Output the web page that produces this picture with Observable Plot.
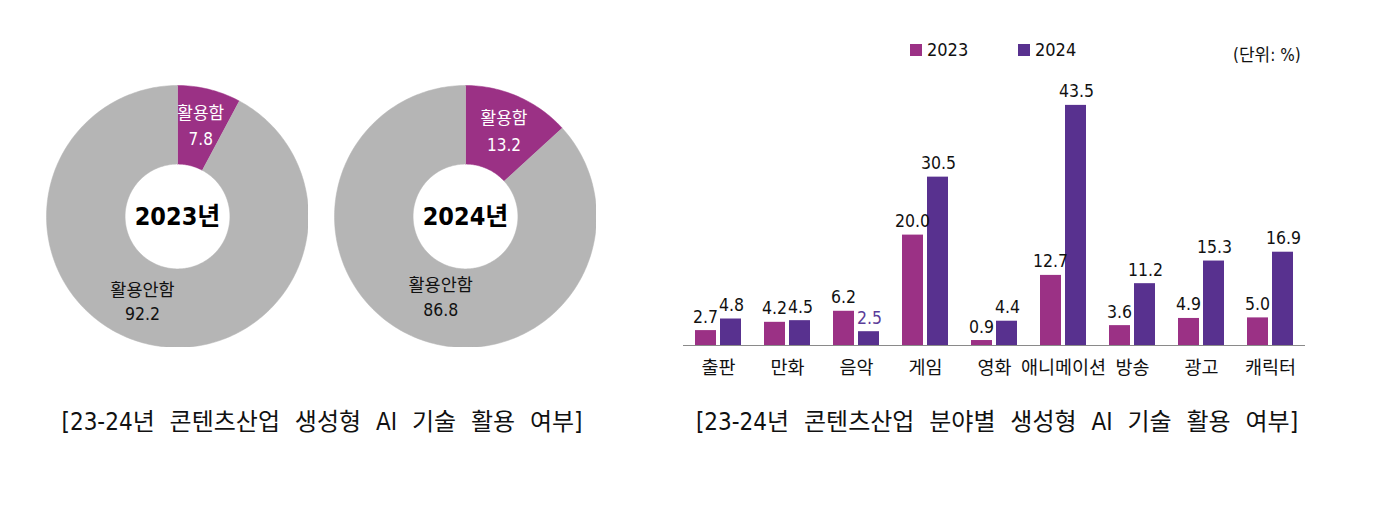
<!DOCTYPE html>
<html><head><meta charset="utf-8">
<script src="https://cdn.jsdelivr.net/npm/d3@7"></script>
<script src="https://cdn.jsdelivr.net/npm/@observablehq/plot@0.6"></script>
<style>
html,body{margin:0;padding:0;background:#fff;}
body{width:1396px;height:524px;position:relative;overflow:hidden;
  font-family:"Liberation Sans Narrow","DejaVu Sans Condensed","Noto Sans CJK KR",sans-serif;color:#111;}
.abs{position:absolute;}
.title{font-size:24px;white-space:nowrap;word-spacing:8px;transform:translateX(-50%);}
.leg{font-size:18px;display:flex;align-items:center;gap:5px;}
.sw{width:12px;height:12px;display:inline-block;}
</style></head><body>
<div id="d1" class="abs" style="left:46px;top:85px"></div>
<div id="d2" class="abs" style="left:334px;top:85px"></div>
<div id="bars" class="abs" style="left:660px;top:60px"></div>
<div class="abs leg" style="left:910px;top:39px"><span class="sw" style="background:#9b3185"></span>2023</div>
<div class="abs leg" style="left:1018px;top:39px"><span class="sw" style="background:#58318f"></span>2024</div>
<div class="abs" style="left:1233px;top:41px;font-size:17px;">(단위: %)</div>
<div class="abs title" style="left:322px;top:402px">[23-24년 콘텐츠산업 생성형 AI 기술 활용 여부]</div>
<div class="abs title" style="left:997px;top:402px">[23-24년 콘텐츠산업 분야별 생성형 AI 기술 활용 여부]</div>
<script>
// ---- data ----
const donutYears = ["2023년", "2024년"];
const sliceLabels = ["활용함", "활용안함"];
const usedShare = [7.8, 13.2];
const notUsedShare = [92.2, 86.8];

const categories = ["출판", "만화", "음악", "게임", "영화", "애니메이션", "방송", "광고", "캐릭터"];
const years = ["2023", "2024"];
const values2023 = [2.7, 4.2, 6.2, 20.0, 0.9, 12.7, 3.6, 4.9, 5.0];
const values2024 = [4.8, 4.5, 2.5, 30.5, 4.4, 43.5, 11.2, 15.3, 16.9];
const highlightedLabel = {category: "음악", year: "2024"};

// ---- styles ----
const PURPLE = "#9b3185", GRAY = "#b5b5b5", C2023 = "#9b3185", C2024 = "#58318f";
const FONT = '"Liberation Sans Narrow","DejaVu Sans Condensed","Noto Sans CJK KR",sans-serif';
const INNER = 0.40;

function ringPoints(a0, a1) {
  const pts = [];
  const n = Math.max(8, Math.ceil((a1 - a0) / 0.02));
  for (let k = 0; k <= n; k++) { const a = a0 + (a1 - a0) * k / n; pts.push({x: Math.sin(a), y: Math.cos(a)}); }
  for (let k = n; k >= 0; k--) { const a = a0 + (a1 - a0) * k / n; pts.push({x: INNER * Math.sin(a), y: INNER * Math.cos(a)}); }
  return pts;
}

function donut(i, bigDx) {
  const slices = [
    {label: sliceLabels[0], value: usedShare[i]},
    {label: sliceLabels[1], value: notUsedShare[i]}
  ];
  const arcs = d3.pie().sort(null).value(d => d.value)(slices);
  const mid = a => (a.startAngle + a.endAngle) / 2;
  const small = arcs[0], big = arcs[1];
  const smallLab = [{x: 0.73 * Math.sin(mid(small)), y: 0.73 * Math.cos(mid(small)), t: small.data.label + "\n" + small.data.value.toFixed(1)}];
  const bigLab = [{x: 0.66 * Math.sin(mid(big)), y: 0.66 * Math.cos(mid(big)), t: big.data.label + "\n" + big.data.value.toFixed(1)}];
  return Plot.plot({
    width: 262, height: 262, margin: 0,
    x: {domain: [-1, 1], axis: null},
    y: {domain: [-1, 1], axis: null},
    style: {fontFamily: FONT, background: "transparent"},
    marks: [
      Plot.line(ringPoints(small.startAngle, small.endAngle), {x: "x", y: "y", fill: PURPLE, stroke: PURPLE, strokeWidth: 0.5, curve: "linear"}),
      Plot.line(ringPoints(big.startAngle, big.endAngle), {x: "x", y: "y", fill: GRAY, stroke: GRAY, strokeWidth: 0.5, curve: "linear"}),
      Plot.text(smallLab, {x: "x", y: "y", text: "t", fill: "white", fontSize: 17, lineHeight: 1.55}),
      Plot.text(bigLab, {x: "x", y: "y", text: "t", fill: "#111", fontSize: 17.5, lineHeight: 1.4, dx: bigDx}),
      Plot.text([donutYears[i]], {x: () => 0, y: () => 0, text: d => d, fill: "#000", fontSize: 25, fontWeight: "bold"})
    ]
  });
}

document.getElementById("d1").append(donut(0, -14));
document.getElementById("d2").append(donut(1, 10));

// ---- bar chart ----
const rows2023 = categories.map((c, i) => ({category: c, year: years[0], value: values2023[i]}));
const rows2024 = categories.map((c, i) => ({category: c, year: years[1], value: values2024[i]}));
const isHighlighted = d => d.category === highlightedLabel.category && d.year === highlightedLabel.year;

const bars = Plot.plot({
  width: 680, height: 330,
  marginLeft: 23, marginRight: 35, marginTop: 9, marginBottom: 45,
  style: {fontFamily: FONT, fontSize: "17px", color: "#111", background: "transparent"},
  x: {domain: categories, paddingInner: 0.33, paddingOuter: 0.165, label: null},
  y: {domain: [0, 50], axis: null},
  marks: [
    Plot.barY(rows2023, {x: "category", y: "value", fill: C2023, insetRight: 25}),
    Plot.barY(rows2024, {x: "category", y: "value", fill: C2024, insetLeft: 25}),
    Plot.text(rows2023, {x: "category", y: "value", text: d => d.value.toFixed(1), dx: -13, dy: -8, lineAnchor: "bottom", fill: "#111", fontSize: 17.5}),
    Plot.text(rows2024, {x: "category", y: "value", text: d => d.value.toFixed(1), dx: 13, dy: -8, lineAnchor: "bottom",
      fill: d => isHighlighted(d) ? "#5b3c99" : "#111", fontSize: 17.5}),
    Plot.ruleY([0], {stroke: "#8a8a8a", strokeWidth: 1}),
    Plot.axisX({tickSize: 0, tickPadding: 15, label: null, fontSize: 18.5, fill: "#111"})
  ]
});
document.getElementById("bars").append(bars);
</script>
</body></html>
